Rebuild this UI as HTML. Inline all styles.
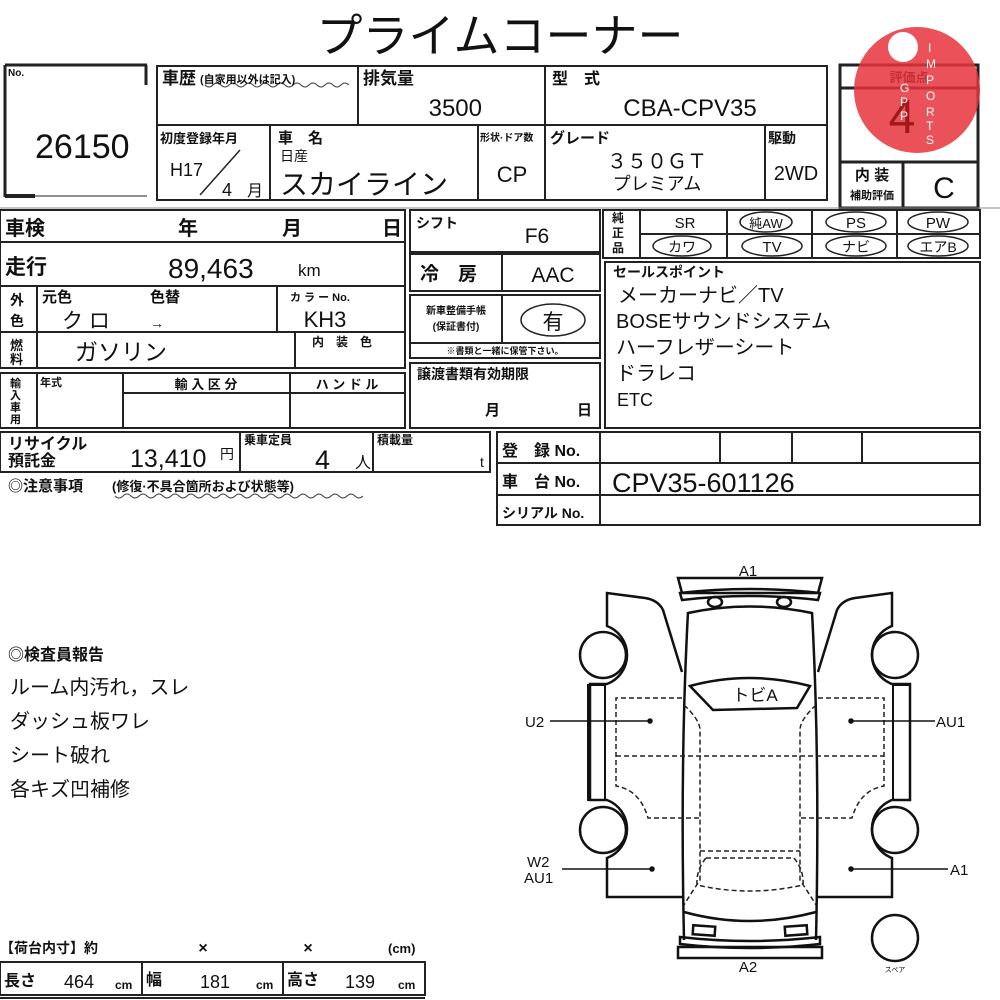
<!DOCTYPE html>
<html><head><meta charset="utf-8"><style>
html,body{margin:0;padding:0;background:#fff;width:1000px;height:1000px;overflow:hidden}
svg{display:block}
text{font-family:"Liberation Sans","Noto Sans CJK JP",sans-serif;fill:#111}
.b{font-weight:bold}
</style></head><body>
<svg width="1000" height="1000" viewBox="0 0 1000 1000" xmlns="http://www.w3.org/2000/svg">
<g stroke="#222" stroke-width="2" fill="none">
<path d="M5,65 L147,65 M146,65 L146,85 M5,65 L5,197" stroke-width="3"/>
<path d="M5,196 L35,196" stroke-width="4"/>
<path d="M35,196 L147,196" stroke-width="1"/>
<rect x="157" y="66" width="670" height="134"/>
<path d="M157,125 L827,125 M358,66 L358,125 M545,66 L545,200 M270,125 L270,200 M478,125 L478,200 M765,125 L765,200"/>
<line x1="200" y1="195" x2="240" y2="150" stroke-width="1.5"/>
<rect x="840" y="65" width="138" height="143" stroke-width="3"/>
<path d="M840,88 L978,88 M840,162 L978,162 M903,162 L903,208" stroke-width="3"/>
<line x1="0" y1="208" x2="1000" y2="208" stroke-width="1" stroke="#888"/>
<!-- left block -->
<rect x="0" y="210" width="405" height="158"/>
<path d="M0,242 L405,242 M0,286 L405,286 M0,332 L405,332 M37,286 L37,368 M277,286 L277,332 M295,332 L295,368"/>
<rect x="0" y="373" width="405" height="55"/>
<path d="M37,373 L37,428 M123,373 L123,428 M290,373 L290,428 M123,393 L405,393"/>
<!-- shift block -->
<rect x="410" y="210" width="190" height="42"/>
<rect x="410" y="254" width="190" height="37"/>
<path d="M502,254 L502,291"/>
<rect x="410" y="295" width="190" height="63"/>
<path d="M410,343 L600,343 M502,295 L502,343"/>
<ellipse cx="553" cy="320" rx="32" ry="16" stroke-width="1.5"/>
<rect x="410" y="363" width="190" height="65"/>
<!-- options -->
<rect x="603" y="210" width="377" height="48"/>
<path d="M640,210 L640,258 M727,210 L727,258 M812,210 L812,258 M897,210 L897,258 M640,234 L980,234"/>
<g stroke-width="1.5">
<ellipse cx="766" cy="222" rx="26" ry="10"/><ellipse cx="856" cy="222" rx="30" ry="10"/><ellipse cx="938" cy="222" rx="30" ry="10"/>
<ellipse cx="682" cy="246" rx="29" ry="10"/><ellipse cx="772" cy="246" rx="30" ry="10"/><ellipse cx="856" cy="246" rx="30" ry="10"/><ellipse cx="938" cy="246" rx="30" ry="10"/>
</g>
<rect x="605" y="262" width="375" height="166"/>
<!-- recycle -->
<rect x="0" y="432" width="490" height="40"/>
<path d="M240,432 L240,472 M373,432 L373,472"/>
<rect x="497" y="432" width="483" height="93"/>
<path d="M497,463 L980,463 M497,495 L980,495 M600,432 L600,525 M720,432 L720,463 M792,432 L792,463 M862,432 L862,463"/>
<rect x="0" y="962" width="425" height="33"/>
<path d="M142,962 L142,995 M283,962 L283,995 M0,998 L425,998"/>
</g>
<path d="M205,85 q4,4 8,0 t8,0 t8,0 t8,0 t8,0 t8,0 t8,0 t8,0 t8,0 t8,0 t8,0 t8,0 t8,0 t8,0 t8,0 t8,0 t8,0 t8,0" stroke="#444" stroke-width="1" fill="none"/>
<path d="M115,496 q4,4 8,0 t8,0 t8,0 t8,0 t8,0 t8,0 t8,0 t8,0 t8,0 t8,0 t8,0 t8,0 t8,0 t8,0 t8,0 t8,0 t8,0 t8,0 t8,0 t8,0 t8,0 t8,0 t8,0 t8,0 t8,0 t8,0 t8,0 t8,0 t8,0 t8,0 t8,0" stroke="#444" stroke-width="1" fill="none"/>

<text x="500" y="52" font-size="46" text-anchor="middle">プライムコーナー</text>
<text x="8" y="76" font-size="10" class="b">No.</text>
<text x="35" y="158" font-size="34">26150</text>
<text x="162" y="84" font-size="17" class="b">車歴</text>
<text x="200" y="83" font-size="11" class="b">(自家用以外は記入)</text>
<text x="363" y="84" font-size="17" class="b">排気量</text>
<text x="482" y="116" font-size="24" text-anchor="end">3500</text>
<text x="552" y="84" font-size="16" class="b">型　式</text>
<text x="690" y="116" font-size="24" text-anchor="middle">CBA-CPV35</text>
<text x="160" y="143" font-size="13" class="b">初度登録年月</text>
<text x="170" y="176" font-size="18">H17</text>
<text x="222" y="196" font-size="18">4</text>
<text x="247" y="196" font-size="16">月</text>
<text x="278" y="143" font-size="15" class="b">車　名</text>
<text x="280" y="161" font-size="14">日産</text>
<text x="280" y="194" font-size="28">スカイライン</text>
<text x="480" y="141" font-size="10" class="b">形状·ドア数</text>
<text x="512" y="182" font-size="22" text-anchor="middle">CP</text>
<text x="550" y="143" font-size="15" class="b">グレード</text>
<text x="657" y="168" font-size="20" text-anchor="middle">３５０ＧＴ</text>
<text x="657" y="190" font-size="18" text-anchor="middle">プレミアム</text>
<text x="768" y="143" font-size="14" class="b">駆動</text>
<text x="796" y="180" font-size="20" text-anchor="middle">2WD</text>
<text x="909" y="82" font-size="13" class="b" text-anchor="middle">評価点</text>
<text x="872" y="180" font-size="15" class="b" text-anchor="middle">内 装</text>
<text x="872" y="199" font-size="11" class="b" text-anchor="middle">補助評価</text>
<text x="944" y="198" font-size="30" text-anchor="middle">C</text>
<circle cx="917" cy="90" r="63" fill="#e8333b" opacity="0.85"/>
<circle cx="903" cy="47" r="15" fill="#fff"/>
<text x="902" y="133" font-size="48" text-anchor="middle" style="fill:#a01818">4</text>
<g font-size="12">
<text x="928" y="52" style="fill:#fff">I</text><text x="926" y="68" style="fill:#fff">M</text><text x="926" y="84" style="fill:#fff">P</text><text x="926" y="100" style="fill:#fff">O</text><text x="926" y="116" style="fill:#fff">R</text><text x="926" y="130" style="fill:#fff">T</text><text x="926" y="144" style="fill:#fff">S</text>
<text x="900" y="92" style="fill:#fff">G</text><text x="900" y="106" style="fill:#fff">P</text><text x="900" y="120" style="fill:#fff">P</text>
</g>

<!-- left block text -->
<text x="5" y="235" font-size="20" class="b">車検</text>
<text x="178" y="235" font-size="20" class="b">年</text>
<text x="282" y="235" font-size="20" class="b">月</text>
<text x="382" y="235" font-size="20" class="b">日</text>
<text x="5" y="274" font-size="21" class="b">走行</text>
<text x="168" y="278" font-size="28">89,463</text>
<text x="298" y="276" font-size="17">km</text>
<text x="10" y="305" font-size="14" class="b">外</text>
<text x="10" y="326" font-size="14" class="b">色</text>
<text x="42" y="302" font-size="15" class="b">元色</text>
<text x="150" y="302" font-size="15" class="b">色替</text>
<text x="62" y="328" font-size="21">ク ロ</text>
<text x="150" y="328" font-size="14">→</text>
<text x="290" y="301" font-size="11" class="b">カ ラ ー No.</text>
<text x="325" y="327" font-size="22" text-anchor="middle">KH3</text>
<text x="10" y="350" font-size="13" class="b">燃</text>
<text x="10" y="364" font-size="13" class="b">料</text>
<text x="75" y="360" font-size="23">ガソリン</text>
<text x="312" y="346" font-size="12" class="b">内　装　色</text>
<text x="10" y="387" font-size="11" class="b">輸</text><text x="10" y="399" font-size="11" class="b">入</text><text x="10" y="411" font-size="11" class="b">車</text><text x="10" y="423" font-size="11" class="b">用</text>
<text x="40" y="386" font-size="11" class="b">年式</text>
<text x="206" y="389" font-size="13" class="b" text-anchor="middle">輸 入 区 分</text>
<text x="347" y="389" font-size="13" class="b" text-anchor="middle">ハ ン ド ル</text>
<!-- shift text -->
<text x="416" y="228" font-size="14" class="b">シフト</text>
<text x="537" y="243" font-size="21" text-anchor="middle">F6</text>
<text x="420" y="280" font-size="19" class="b">冷　房</text>
<text x="553" y="282" font-size="21" text-anchor="middle">AAC</text>
<text x="456" y="314" font-size="10" class="b" text-anchor="middle">新車整備手帳</text>
<text x="456" y="330" font-size="10" class="b" text-anchor="middle">(保証書付)</text>
<text x="553" y="329" font-size="21" text-anchor="middle">有</text>
<text x="505" y="354" font-size="9" class="b" text-anchor="middle">※書類と一緒に保管下さい。</text>
<text x="417" y="379" font-size="14" class="b">譲渡書類有効期限</text>
<text x="485" y="415" font-size="15" class="b">月</text>
<text x="577" y="415" font-size="15" class="b">日</text>
<!-- options text -->
<text x="612" y="222" font-size="12" class="b">純</text><text x="612" y="237" font-size="12" class="b">正</text><text x="612" y="252" font-size="12" class="b">品</text>
<text x="685" y="228" font-size="15" text-anchor="middle">SR</text>
<text x="766" y="228" font-size="13" text-anchor="middle">純AW</text>
<text x="856" y="228" font-size="15" text-anchor="middle">PS</text>
<text x="938" y="228" font-size="15" text-anchor="middle">PW</text>
<text x="682" y="252" font-size="14" text-anchor="middle">カワ</text>
<text x="772" y="252" font-size="15" text-anchor="middle">TV</text>
<text x="856" y="252" font-size="14" text-anchor="middle">ナビ</text>
<text x="938" y="252" font-size="14" text-anchor="middle">エアB</text>
<text x="613" y="277" font-size="14" class="b">セールスポイント</text>
<g font-size="20">
<text x="618" y="302">メーカーナビ／TV</text>
<text x="616" y="328">BOSEサウンドシステム</text>
<text x="616" y="354">ハーフレザーシート</text>
<text x="616" y="380">ドラレコ</text>
<text x="617" y="406" font-size="18">ETC</text>
</g>
<!-- recycle -->
<text x="8" y="449" font-size="16" class="b">リサイクル</text>
<text x="8" y="466" font-size="16" class="b">預託金</text>
<text x="130" y="467" font-size="25">13,410</text>
<text x="220" y="459" font-size="14">円</text>
<text x="244" y="444" font-size="12" class="b">乗車定員</text>
<text x="315" y="469" font-size="27">4</text>
<text x="355" y="468" font-size="16">人</text>
<text x="377" y="444" font-size="12" class="b">積載量</text>
<text x="480" y="467" font-size="14">t</text>
<text x="8" y="491" font-size="15" class="b">◎注意事項</text>
<text x="112" y="491" font-size="13" class="b">(修復·不具合箇所および状態等)</text>
<text x="502" y="456" font-size="16" class="b">登　録 No.</text>
<text x="502" y="487" font-size="16" class="b">車　台 No.</text>
<text x="502" y="518" font-size="14" class="b">シリアル No.</text>
<text x="612" y="492" font-size="27">CPV35-601126</text>
<text x="8" y="660" font-size="16" class="b">◎検査員報告</text>
<g font-size="20">
<text x="10" y="694">ルーム内汚れ，スレ</text>
<text x="10" y="728">ダッシュ板ワレ</text>
<text x="10" y="762">シート破れ</text>
<text x="10" y="796">各キズ凹補修</text>
</g>
<text x="0" y="953" font-size="14" class="b">【荷台内寸】約</text>
<text x="203" y="953" font-size="16" class="b" text-anchor="middle">×</text>
<text x="308" y="953" font-size="16" class="b" text-anchor="middle">×</text>
<text x="388" y="953" font-size="13" class="b">(cm)</text>
<text x="4" y="986" font-size="16" class="b">長さ</text><text x="64" y="988" font-size="18">464</text><text x="115" y="989" font-size="12" class="b">cm</text>
<text x="146" y="985" font-size="16" class="b">幅</text><text x="200" y="988" font-size="18">181</text><text x="256" y="989" font-size="12" class="b">cm</text>
<text x="287" y="985" font-size="16" class="b">高さ</text><text x="345" y="988" font-size="18">139</text><text x="398" y="989" font-size="12" class="b">cm</text>

<g stroke="#111" stroke-width="2.5" fill="none">
<path d="M678,578 L822,578 L818,593 L682,593 Z"/>
<path d="M680,593 Q749,585 820,593 L818,600 Q749,592 682,600 Z"/>
<ellipse cx="715" cy="602" rx="7" ry="5"/><ellipse cx="784" cy="602" rx="7" ry="5"/>
<path d="M688,613 Q749,600 812,613"/>
<path d="M688,612 Q680,760 684,940"/>
<path d="M812,612 Q820,760 816,940"/>
<path d="M684,912 Q749,930 816,912"/>
<rect x="693" y="926" width="22" height="9" transform="rotate(4 704 930)"/>
<rect x="785" y="926" width="22" height="9" transform="rotate(-4 796 930)"/>
<path d="M680,937 Q749,945 820,937 L820,944 Q749,952 680,944 Z"/>
<path d="M678,947 L822,947 L822,958 L678,958 Z"/>
<path d="M690,686 Q749,670 810,686 L797,708 L713,710 Z"/>
<path d="M682,672 L663,610 Q658,600 645,598 L607,593 L607,626 A31,31 0 0 1 607,684 L590,684 L590,800 L607,800 A31,31 0 0 1 607,858 L607,897 L682,897"/>
<path d="M588,685 L588,800 L605,800 L605,685 Z" stroke-width="2"/>
<circle cx="603" cy="655" r="23"/><circle cx="603" cy="830" r="23"/>
<path d="M818,672 L837,610 Q842,600 855,598 L892,593 L892,626 A31,31 0 0 0 892,684 L910,684 L910,800 L892,800 A31,31 0 0 0 892,858 L892,897 L818,897"/>
<path d="M893,685 L910,685 L910,800 L893,800 Z" stroke-width="2"/>
<circle cx="895" cy="655" r="23"/><circle cx="895" cy="830" r="23"/>
<circle cx="895" cy="938" r="23"/>
</g>
<g stroke="#222" stroke-width="1.5" fill="none" stroke-dasharray="5,3">
<path d="M682,698 L616,698 L616,786 Q640,790 648,818 L700,818"/>
<path d="M818,698 L884,698 L884,786 Q860,790 852,818 L800,818"/>
<path d="M616,756 L884,756"/>
<path d="M684,705 Q700,720 700,730 L700,880 Q690,895 684,905"/>
<path d="M816,705 Q800,720 800,730 L800,880 Q810,895 816,905"/>
<path d="M700,851 L800,851"/>
<path d="M706,858 L794,858 Q804,870 803,885 Q749,897 697,885 Q696,870 706,858 Z"/>
</g>
<g stroke="#111" stroke-width="1.5">
<line x1="550" y1="721" x2="650" y2="721"/><circle cx="650" cy="721" r="2" fill="#111"/>
<line x1="851" y1="721" x2="935" y2="721"/><circle cx="851" cy="721" r="2" fill="#111"/>
<line x1="562" y1="869" x2="652" y2="869"/><circle cx="652" cy="869" r="2" fill="#111"/>
<line x1="851" y1="869" x2="948" y2="869"/><circle cx="851" cy="869" r="2" fill="#111"/>
</g>
<text x="755" y="701" font-size="17" text-anchor="middle">トビA</text>
<text x="748" y="576" font-size="15" text-anchor="middle">A1</text>
<text x="748" y="972" font-size="15" text-anchor="middle">A2</text>
<text x="525" y="727" font-size="15">U2</text>
<text x="936" y="727" font-size="15">AU1</text>
<text x="527" y="867" font-size="15">W2</text>
<text x="524" y="883" font-size="15">AU1</text>
<text x="950" y="875" font-size="15">A1</text>
<text x="895" y="972" font-size="7" text-anchor="middle">スペア</text>
</svg>
</body></html>
